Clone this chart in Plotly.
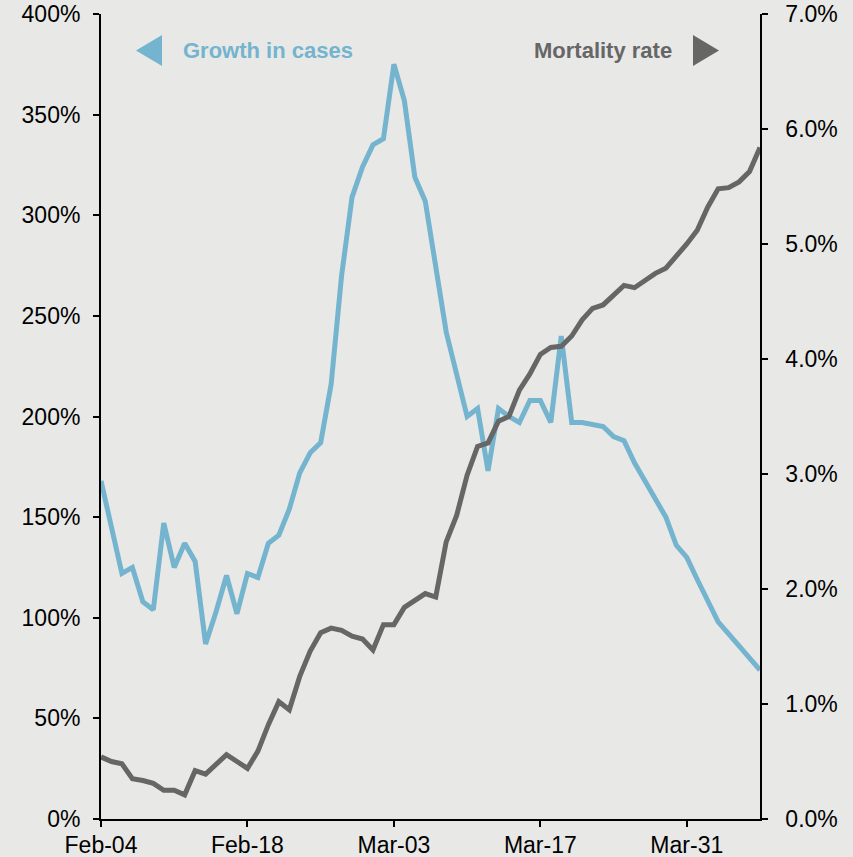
import pandas as pd
import plotly.graph_objects as go

# Daily series, 2020-02-04 .. 2020-04-07
start_date = "2020-02-04"
growth_in_cases = [
    168, 145, 122, 125, 108, 104, 147, 125, 137, 128,
    87, 103, 121, 102, 122, 120, 137, 141, 154, 172,
    182, 187, 216, 270, 309, 324, 335, 338, 375, 357,
    319, 307, 275, 242, 221, 200, 204, 173, 204, 200,
    197, 208, 208, 197, 240, 197, 197, 196, 195, 190,
    188, 177, 168, 159, 150, 136, 130, 119, 108, 98,
    92, 86, 80, 74,
]
mortality_rate = [
    0.54, 0.50, 0.48, 0.35, 0.335, 0.31, 0.25, 0.25, 0.21, 0.42,
    0.39, 0.48, 0.56, 0.50, 0.44, 0.59, 0.82, 1.02, 0.95, 1.24,
    1.46, 1.62, 1.66, 1.64, 1.59, 1.565, 1.47, 1.69, 1.69, 1.84,
    1.90, 1.96, 1.93, 2.41, 2.64, 2.99, 3.24, 3.27, 3.46, 3.50,
    3.73, 3.87, 4.04, 4.10, 4.11, 4.20, 4.34, 4.44, 4.47, 4.56,
    4.64, 4.62, 4.68, 4.745, 4.79, 4.89, 5.00, 5.12, 5.32, 5.48,
    5.49, 5.54, 5.63, 5.84,
]
dates = pd.date_range(start_date, periods=len(growth_in_cases), freq="D")

BLUE = "#74b4ce"
GREY = "#666666"
BG = "#e8e8e6"
FONT = "Liberation Sans, Arial, sans-serif"

fig = go.Figure()
fig.add_trace(go.Scatter(
    x=dates, y=growth_in_cases, mode="lines", name="Growth in cases",
    line=dict(color=BLUE, width=5), yaxis="y",
))
fig.add_trace(go.Scatter(
    x=dates, y=mortality_rate, mode="lines", name="Mortality rate",
    line=dict(color=GREY, width=5), yaxis="y2",
))

axis_common = dict(
    showgrid=False, zeroline=False, showline=True, linecolor="black",
    linewidth=2, ticks="outside", ticklen=6, tickwidth=2, tickcolor="black",
    tickfont=dict(family=FONT, size=23, color="black"), automargin=False,
    ticklabeloverflow="allow",
)

fig.update_layout(
    width=853, height=857,
    margin=dict(l=101, r=93, t=14, b=38),
    paper_bgcolor=BG, plot_bgcolor=BG,
    showlegend=False,
    xaxis=dict(
        **axis_common,
        range=[dates[0], dates[-1]],
        tick0=dates[0], dtick=14 * 86400000, tickformat="%b-%d",
        ticklabelstandoff=-2,
    ),
    yaxis=dict(
        **axis_common,
        range=[0, 400], dtick=50, ticksuffix="%",
        ticklabelstandoff=8,
    ),
    yaxis2=dict(
        **axis_common,
        overlaying="y", side="right", anchor="x",
        range=[0, 7], dtick=1, tickformat=".1f", ticksuffix="%",
        # standoff is ignored on this overlaying axis, so pad with nbsp
        tickprefix="\u00a0\u00a0",
    ),
    annotations=[
        dict(text="<b>Growth in cases</b>", xref="paper", yref="paper",
             x=0.1214, y=0.955, xanchor="left", yanchor="middle",
             showarrow=False, font=dict(family=FONT, size=22, color=BLUE)),
        dict(text="<b>Mortality rate</b>", xref="paper", yref="paper",
             x=0.8695, y=0.955, xanchor="right", yanchor="middle",
             showarrow=False, font=dict(family=FONT, size=22, color=GREY)),
    ],
    shapes=[
        dict(type="path", xref="paper", yref="paper",
             path="M 0.0531 0.9546 L 0.0926 0.9739 L 0.0926 0.9354 Z",
             fillcolor=BLUE, line=dict(width=0)),
        dict(type="path", xref="paper", yref="paper",
             path="M 0.8983 0.9739 L 0.8983 0.9354 L 0.9378 0.9546 Z",
             fillcolor=GREY, line=dict(width=0)),
    ],
)

# drop the browser's default body margin so the figure fills the window
fig.write_html(
    "out.html",
    config={"displayModeBar": False},
    post_script="document.body.style.margin = '0';",
)
